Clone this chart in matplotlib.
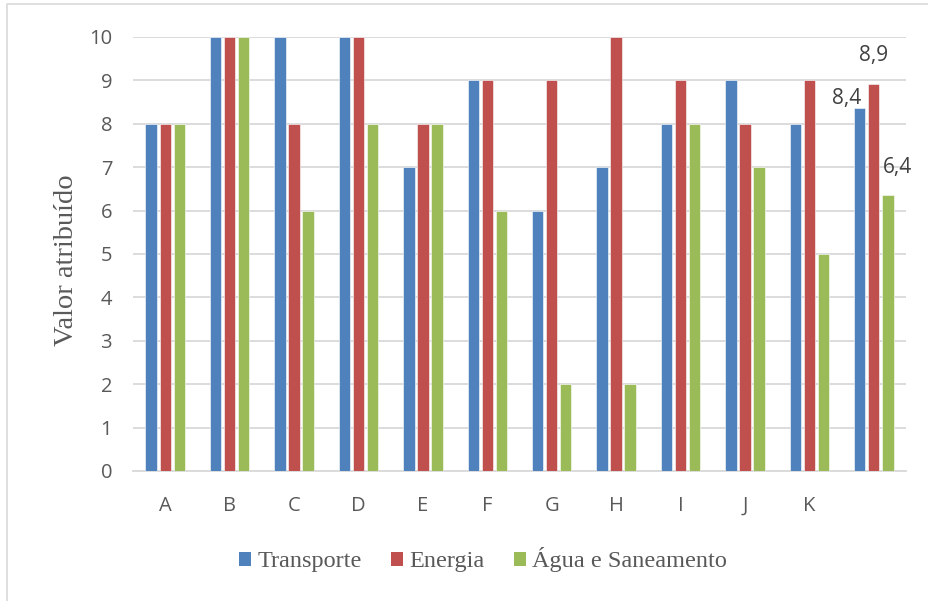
import numpy as np
import matplotlib.pyplot as plt
from matplotlib.lines import Line2D
from matplotlib.patches import Patch

# Notas atribuídas por projeto (última coluna: média)
projetos = ['A', 'B', 'C', 'D', 'E', 'F', 'G', 'H', 'I', 'J', 'K', '']
transporte = [8, 10, 10, 10, 7, 9, 6, 7, 8, 9, 8, 8.36]
energia = [8, 10, 8, 10, 8, 9, 9, 10, 9, 8, 9, 8.91]
agua = [8, 10, 6, 8, 8, 6, 2, 2, 8, 7, 5, 6.36]

series = ['Transporte', 'Energia', 'Água e Saneamento']
cores = ['#4F81BD', '#C0504D', '#9BBB59']

fig = plt.figure(figsize=(9.29, 6.01), dpi=100)
ax = fig.add_axes([133/929, 1-471/601, (906-133)/929, (471-37)/601])

x = np.arange(len(projetos))
largura = 0.176
passo = 0.218
barras = []
for i, (vals, cor) in enumerate(zip([transporte, energia, agua], cores)):
    b = ax.bar(x + (i-1)*passo, vals, largura, color=cor, edgecolor='white',
               linewidth=0.4, zorder=3)
    barras.append(b)

# rótulos das médias
deslocamentos = [(-13, 10), (0, 29), (9.5, 27.5)]
for b, vals, (dx, dy) in zip(barras, [transporte, energia, agua], deslocamentos):
    r = b[-1]
    v = vals[-1]
    ax.annotate(f'{v:.1f}'.replace('.', ','),
                (r.get_x() + r.get_width()/2, v),
                xytext=(dx*0.72, dy*0.72), textcoords='offset points',
                ha='center', va='center', fontsize=15, color='#404040',
                family='Open Sans', annotation_clip=False)

ax.set_xlim(-0.5, len(projetos) - 0.5)
ax.set_ylim(0, 10)
ax.set_yticks(range(0, 11))
ax.set_xticks(x)
ax.set_xticklabels(projetos)
ax.yaxis.grid(True, color='#d9d9d9', linewidth=1.3, zorder=0)
ax.set_axisbelow(True)
for s in ['top', 'right', 'left']:
    ax.spines[s].set_visible(False)
ax.spines['bottom'].set_color('#d9d9d9')
ax.spines['bottom'].set_linewidth(1.3)
ax.tick_params(length=0, labelsize=14.5, labelcolor='#595959')
ax.tick_params(axis='y', pad=15)
ax.tick_params(axis='x', pad=18)
for lab in ax.get_xticklabels() + ax.get_yticklabels():
    lab.set_family('Open Sans')
ax.set_ylabel('Valor atribuído', family='Liberation Serif', fontsize=20.5,
              color='#595959')
ax.yaxis.set_label_coords(-(133-79)/(906-133), (471-260)/(471-37))

handles = [Patch(facecolor=c, edgecolor='none') for c in cores]
fig.legend(handles, series, loc='center', bbox_to_anchor=(483/929, 1-560/601),
           ncol=3, frameon=False, prop={'family': 'Liberation Serif', 'size': 17.5},
           labelcolor='#595959', handlelength=0.5, handleheight=0.5,
           handletextpad=0.25, columnspacing=1.2)

# moldura da área do gráfico
fig.add_artist(Line2D([7/929, 7/929, 1], [0, 1-4/601, 1-4/601],
                      color='#d9d9d9', linewidth=1.2))

fig.savefig('out.png', dpi=100)
